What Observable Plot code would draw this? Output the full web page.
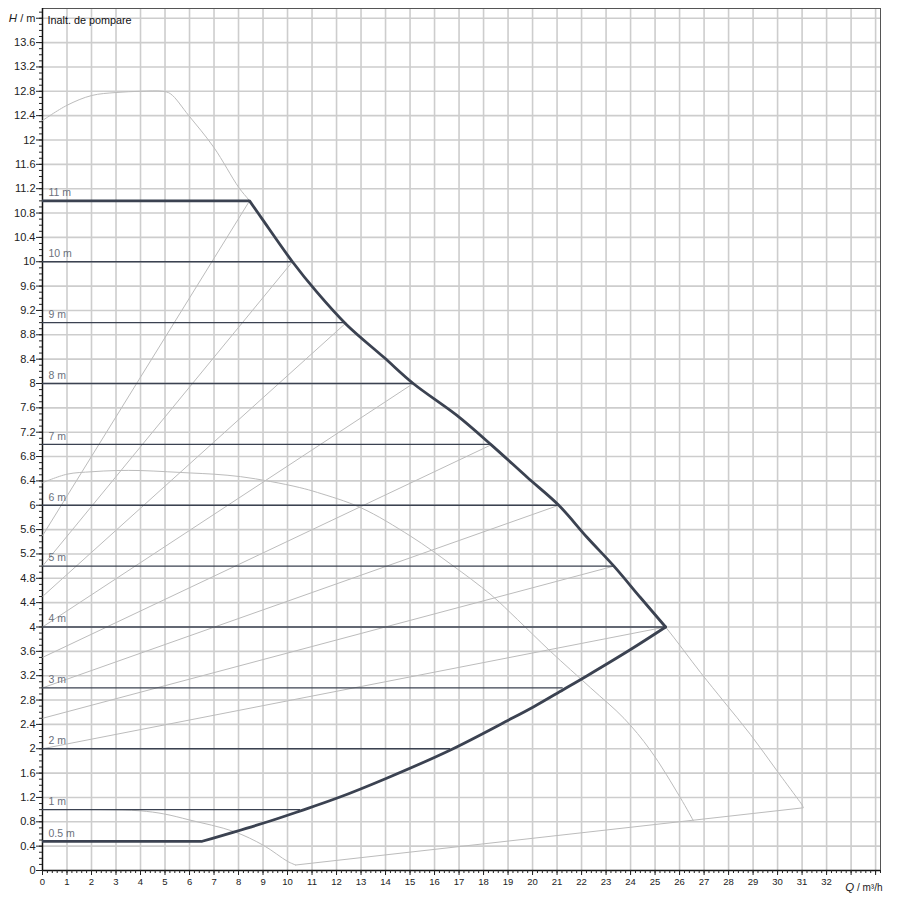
<!DOCTYPE html>
<html>
<head>
<meta charset="utf-8">
<script src="https://cdn.jsdelivr.net/npm/d3@7"></script>
<script src="https://cdn.jsdelivr.net/npm/@observablehq/plot@0.6"></script>
<style>
  body { margin: 0; background: #fff; }
</style>
</head>
<body>
<div id="chart"></div>
<script>
// pump chart: Q (m³/h) vs H (m)

// tick values
const xTicks = [0,1,2,3,4,5,6,7,8,9,10,11,12,13,14,15,16,17,18,19,20,21,22,23,24,25,26,27,28,29,30,31,32,33,34];
const yTicks = [0,0.4,0.8,1.2,1.6,2,2.4,2.8,3.2,3.6,4,4.4,4.8,5.2,5.6,6,6.4,6.8,7.2,7.6,8,8.4,8.8,9.2,9.6,10,10.4,10.8,11.2,11.6,12,12.4,12.8,13.2,13.6,14];

// constant pressure settings
const levels = [11, 10, 9, 8, 7, 6, 5, 4, 3, 2, 1, 0.48];
const levelLabels = ["11 m", "10 m", "9 m", "8 m", "7 m", "6 m", "5 m", "4 m", "3 m", "2 m", "1 m", "0.5 m"];
const levelEndQ = [8.45, 10.2, 12.4, 15.13, 18.35, 21.07, 23.32, 25.43, 21.25, 16.65, 10.53, 6.52];

// proportional pressure lines
const propStartH = [5.5, 5, 4.5, 4, 3.5, 3, 2.5, 2];
const propEndH = [11, 10, 9, 8, 7, 6, 5, 4];
const propEndQ = [8.45, 10.2, 12.4, 15.13, 18.35, 21.07, 23.32, 25.43];

// max speed curve
const maxQ = [0, 1, 2, 3, 4, 4.9, 5.22, 5.97, 6.99, 8.01, 8.45, 8.97, 10.2, 11.2, 12.4, 13.93, 15.13, 16.9, 18.35, 19.78, 21.07, 22.23, 23.32, 24.41, 25.43, 26.86, 27.8, 28.9, 29.99, 31.0];
const maxH = [12.32, 12.57, 12.73, 12.78, 12.8, 12.8, 12.76, 12.4, 11.88, 11.22, 11.0, 10.7, 10.0, 9.5, 8.97, 8.43, 8.0, 7.48, 6.98, 6.46, 6.0, 5.47, 5.0, 4.48, 4.0, 3.25, 2.78, 2.23, 1.63, 1.08];

// middle speed curve
const midQ = [0, 1, 2, 3, 4, 5.09, 6.04, 7.0, 8.08, 9.31, 10.5, 11.22, 12.99, 15.03, 16.67, 18.3, 19.39, 20.73, 22.37, 23.73, 24.8, 26.04, 26.56];
const midH = [6.37, 6.51, 6.55, 6.57, 6.57, 6.55, 6.53, 6.51, 6.47, 6.39, 6.29, 6.21, 5.96, 5.49, 5.03, 4.53, 4.12, 3.6, 3.0, 2.5, 1.98, 1.19, 0.82];

// min speed curve
const minQ = [0, 2.4, 4.0, 4.95, 6.0, 7.81, 9.03, 10.0, 10.33];
const minH = [1.0, 1.0, 0.98, 0.93, 0.83, 0.64, 0.41, 0.15, 0.09];

// bottom boundary
const bottomQ = [10.33, 31.05, 31.0];
const bottomH = [0.09, 1.03, 1.08];

// working range, upper (max) branch and lower (min pressure) branch
const upperQ = [8.45, 8.97, 10.2, 11.2, 12.4, 13.93, 15.13, 16.9, 18.35, 19.78, 21.07, 22.23, 23.32, 24.41, 25.43];
const upperH = [11.0, 10.7, 10.0, 9.5, 8.97, 8.43, 8.0, 7.48, 6.98, 6.46, 6.0, 5.47, 5.0, 4.48, 4.0];
const lowerQ = [25.43, 24.0, 22.23, 21.25, 20.05, 18.97, 16.65, 14.07, 12.03, 10.53, 9.03, 6.52];
const lowerH = [4.0, 3.63, 3.2, 2.97, 2.69, 2.46, 1.98, 1.52, 1.19, 0.98, 0.78, 0.48];

const rows = (qs, hs, k) => qs.map((q, i) => ({q, h: hs[i], k}));
const xMinor = d3.range(0, 34.21, 0.2);
const yMinor = d3.range(0, 14.11, 0.1);
const levelRows = levels.map((h, i) => ({h, q: levelEndQ[i], label: levelLabels[i]}));
const edgeRows = [levelRows[0], levelRows[levelRows.length - 1]];
const propRows = propStartH.map((h0, i) => ({q0: 0, h0, q1: propEndQ[i], h1: propEndH[i]}));

const gray = "#bcbcbc";
const dark = "#3b4251";

const chart = Plot.plot({
  width: 900,
  height: 900,
  marginLeft: 42,
  marginRight: 20,
  marginTop: 8,
  marginBottom: 30,
  x: {domain: [0, 34.2], axis: null},
  y: {domain: [0, 14.16], axis: null},
  style: {
    fontFamily: "'Liberation Sans', Arial, sans-serif",
    fontSize: "10px",
    color: "#222",
    background: "#fff"
  },
  marks: [
    Plot.gridX(xTicks.slice(1), {stroke: "#cdcdcd", strokeOpacity: 1, strokeWidth: 1.6}),
    Plot.gridY(yTicks.slice(1), {stroke: "#cdcdcd", strokeOpacity: 1, strokeWidth: 1.6}),
    Plot.frame({stroke: "#555"}),
    Plot.ruleX([0], {stroke: "#111", strokeWidth: 1.5}),
    Plot.ruleY([0], {stroke: "#111", strokeWidth: 1.5}),
    Plot.axisX(xMinor, {tickSize: 3, tickFormat: () => ""}),
    Plot.axisX(xTicks, {tickSize: 5, tickPadding: 3, fontSize: 9.5, tickFormat: d => d <= 32 ? String(d) : ""}),
    Plot.axisY(yMinor, {tickSize: 3, tickFormat: () => ""}),
    Plot.axisY(yTicks, {tickSize: 6, tickPadding: 1, fontSize: 11, tickFormat: d => d === 14 ? "H / m" : String(d)}),
    Plot.text(["Q / m³/h"], {x: 34.2, y: 0, text: d => d, textAnchor: "end", dx: 2, dy: 17, fontSize: 10, fill: "#222"}),
    Plot.text(["Inalt. de pompare"], {x: 0, y: 14, text: d => d, textAnchor: "start", dx: 5, dy: 2, fontSize: 10.8, fill: "#111"}),
    // curves of the pump
    Plot.line(rows(maxQ, maxH), {x: "q", y: "h", stroke: gray, strokeWidth: 1, curve: "catmull-rom"}),
    Plot.line(rows(midQ, midH), {x: "q", y: "h", stroke: gray, strokeWidth: 1, curve: "catmull-rom"}),
    Plot.line(rows(minQ, minH), {x: "q", y: "h", stroke: gray, strokeWidth: 1, curve: "catmull-rom"}),
    Plot.line(rows(bottomQ, bottomH), {x: "q", y: "h", stroke: gray, strokeWidth: 1}),
    Plot.link(propRows, {x1: "q0", y1: "h0", x2: "q1", y2: "h1", stroke: gray, strokeWidth: 1}),
    Plot.ruleY(levelRows, {y: "h", x1: d => 0, x2: "q", stroke: dark, strokeWidth: 1.3}),
    // thick working range outline
    Plot.ruleY(edgeRows, {y: "h", x1: d => 0, x2: "q", stroke: dark, strokeWidth: 2.8}),
    Plot.line([...rows(upperQ, upperH, "upper"), ...rows(lowerQ, lowerH, "lower")],
      {x: "q", y: "h", z: "k", stroke: dark, strokeWidth: 2.8, strokeLinecap: "round", curve: "catmull-rom"}),
    Plot.text(levelRows, {x: d => 0, y: "h", text: "label", textAnchor: "start", dx: 6, dy: -8, fontSize: 10.5, fill: "#6b717c"})
  ]
});

// italic variable names in the axis titles
d3.select(chart).selectAll("text").each(function () {
  const t = this.textContent;
  if (t === "H / m" || t === "Q / m³/h") {
    const sel = d3.select(this);
    sel.text(null);
    sel.append("tspan").attr("font-style", "italic").attr("font-size", 11.5).text(t[0]);
    sel.append("tspan").text(t.slice(1));
  }
});

d3.select("#chart").append(() => chart);
</script>
</body>
</html>
